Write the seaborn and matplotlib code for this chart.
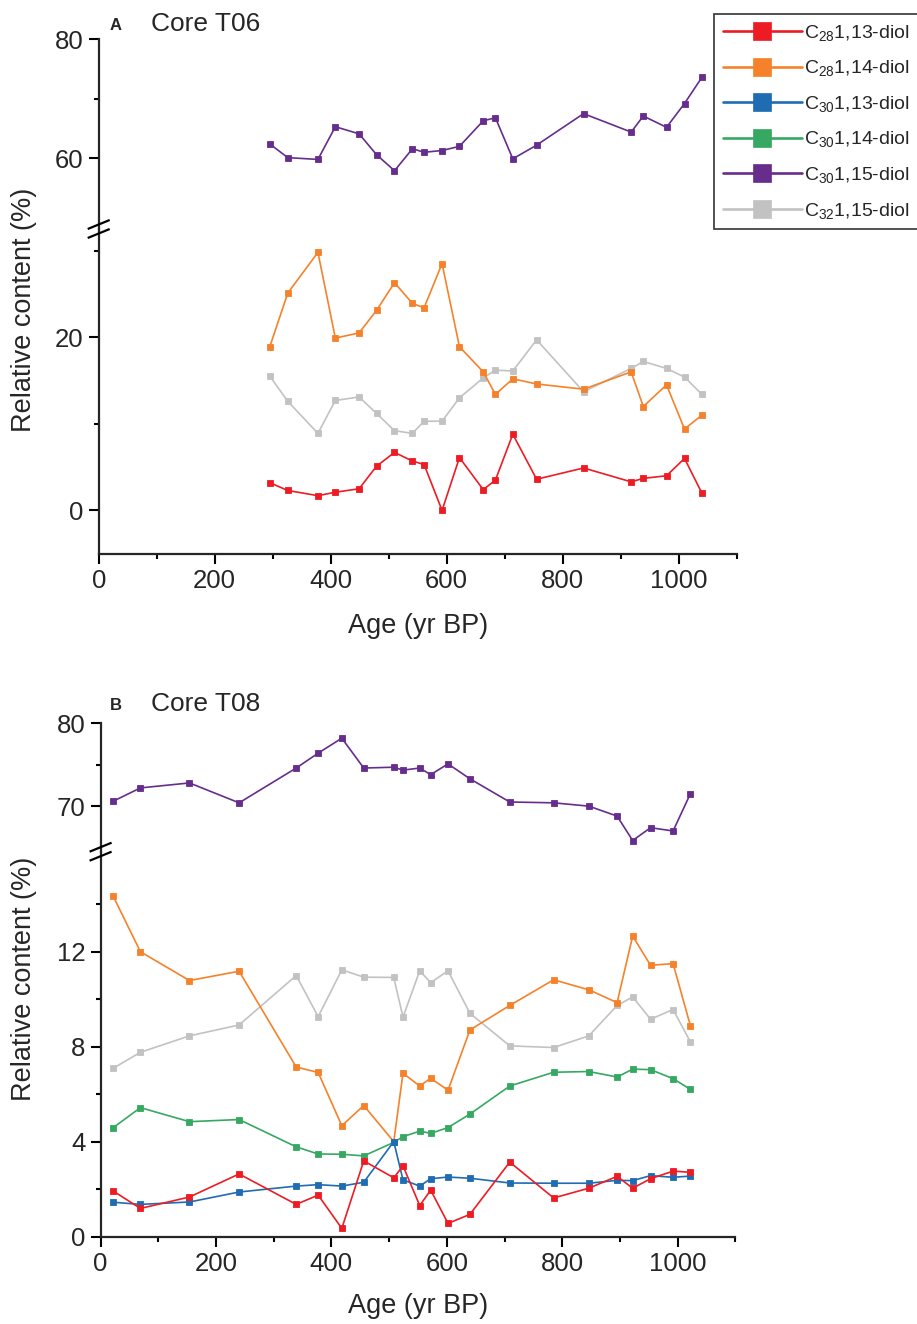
import numpy as np
import pandas as pd
import matplotlib
matplotlib.use("Agg")
import matplotlib.pyplot as plt
from matplotlib.lines import Line2D
from matplotlib.ticker import FixedLocator
import seaborn as sns

# ---------------- data ----------------
series_names = ["C$_{28}$1,13-diol", "C$_{28}$1,14-diol", "C$_{30}$1,13-diol",
                "C$_{30}$1,14-diol", "C$_{30}$1,15-diol", "C$_{32}$1,15-diol"]
series_colors = ["#ED1C24", "#F5822A", "#1F6CB3", "#36A862", "#662D8C", "#C2C2C2"]

ages_A = [295, 326, 378, 408, 449, 479, 510, 541, 561, 592, 622, 663, 684, 714,
          755, 836, 918, 939, 979, 1010, 1040]
A_c28_113 = [3.2, 2.3, 1.7, 2.1, 2.5, 5.1, 6.7, 5.7, 5.3, 0.0, 6.1, 2.4, 3.5, 8.8,
             3.6, 4.9, 3.3, 3.7, 4.0, 6.0, 2.0]
A_c28_114 = [18.9, 25.1, 29.8, 19.9, 20.5, 23.1, 26.3, 23.9, 23.4, 28.5, 18.9, 16.0,
             13.4, 15.2, 14.6, 14.0, 16.0, 12.0, 14.5, 9.4, 11.0]
A_c30_115 = [62.4, 60.1, 59.8, 65.3, 64.1, 60.6, 57.9, 61.6, 61.0, 61.3, 62.0, 66.3,
             66.8, 59.9, 62.2, 67.5, 64.4, 67.1, 65.2, 69.2, 73.6]
A_c32_115 = [15.5, 12.6, 8.9, 12.7, 13.1, 11.2, 9.2, 8.9, 10.3, 10.3, 13.0, 15.3,
             16.2, 16.1, 19.7, 13.7, 16.4, 17.2, 16.4, 15.4, 13.4]

ages_B = [22, 69, 154, 240, 339, 377, 418, 456, 508, 524, 553, 572, 602, 640, 709,
          785, 846, 895, 922, 953, 992, 1022]
B_c28_113 = [1.92, 1.19, 1.67, 2.64, 1.36, 1.75, 0.35, 3.19, 2.48, 2.98, 1.31, 1.96,
             0.56, 0.94, 3.14, 1.63, 2.04, 2.54, 2.04, 2.44, 2.76, 2.71]
B_c28_114 = [14.32, 11.99, 10.78, 11.17, 7.14, 6.91, 4.67, 5.52, 4.0, 6.88, 6.34, 6.67,
             6.16, 8.70, 9.73, 10.81, 10.39, 9.85, 12.65, 11.42, 11.49, 8.88]
B_c30_113 = [1.45, 1.36, 1.46, 1.88, 2.13, 2.19, 2.13, 2.29, 4.0, 2.39, 2.13, 2.44,
             2.51, 2.46, 2.26, 2.25, 2.25, 2.37, 2.36, 2.57, 2.50, 2.55]
B_c30_114 = [4.59, 5.43, 4.84, 4.93, 3.78, 3.48, 3.47, 3.40, 3.97, 4.21, 4.44, 4.35,
             4.59, 5.16, 6.34, 6.92, 6.95, 6.72, 7.05, 7.03, 6.65, 6.20]
B_c30_115 = [70.6, 72.2, 72.8, 70.4, 74.6, 76.4, 78.2, 74.6, 74.7, 74.35, 74.6, 73.8,
             75.1, 73.3, 70.5, 70.4, 70.0, 68.8, 65.85, 67.4, 67.0, 71.5]
B_c32_115 = [7.09, 7.76, 8.45, 8.91, 10.99, 9.26, 11.23, 10.92, 10.91, 9.24, 11.19,
             10.69, 11.19, 9.40, 8.03, 7.96, 8.45, 9.73, 10.09, 9.15, 9.56, 8.20]

x_major = [0, 200, 400, 600, 800, 1000]
x_minor = [100, 300, 500, 700, 900, 1100]

# ---------------- style ----------------
sns.set_style("ticks")
plt.rcParams["font.family"] = ["Liberation Sans", "DejaVu Sans"]
plt.rcParams["mathtext.fontset"] = "custom"
plt.rcParams["mathtext.rm"] = "Liberation Sans"
plt.rcParams["mathtext.it"] = "Liberation Sans:italic"
plt.rcParams["mathtext.bf"] = "Liberation Sans:bold"

W, H = 917, 1324
fig = plt.figure(figsize=(W / 100, H / 100), dpi=100)


def rect(left_px, right_px, top_px, bottom_px):
    return [left_px / W, 1 - bottom_px / H, (right_px - left_px) / W, (bottom_px - top_px) / H]


SPINE_LW = 1.6
TICK_FS = 18.5
LABEL_FS = 19.5


def style_axis(ax, upper):
    for s in ["top", "right"]:
        ax.spines[s].set_visible(False)
    ax.spines["left"].set_linewidth(SPINE_LW)
    ax.spines["bottom"].set_linewidth(SPINE_LW)
    ax.tick_params(axis="both", which="major", direction="out", length=7, width=1.5,
                   labelsize=TICK_FS, pad=4, color="black")
    ax.tick_params(axis="both", which="minor", direction="out", length=3.5, width=1.5,
                   color="black")
    ax.set_xlim(0, 1100)
    ax.xaxis.set_major_locator(FixedLocator(x_major))
    ax.xaxis.set_minor_locator(FixedLocator(x_minor))
    if upper:
        ax.spines["bottom"].set_visible(False)
        ax.tick_params(axis="x", which="both", bottom=False, labelbottom=False)
    ax.set_xlabel("")
    ax.set_ylabel("")
    ax.patch.set_alpha(0)


def draw(ax, ages, vals, color):
    sns.lineplot(x=ages, y=vals, ax=ax, color=color, marker="s", markersize=4.8,
                 markeredgecolor=color, markeredgewidth=0.6, linewidth=1.2,
                 estimator=None, sort=False, legend=False, clip_on=False)


def break_marks(x_px, y_px):
    for dy in (-4.5, 4.5):
        yc = y_px + dy
        fig.add_artist(Line2D([(x_px - 11) / W, (x_px + 11) / W],
                              [1 - (yc + 4.5) / H, 1 - (yc - 4.5) / H],
                              transform=fig.transFigure, color="black", lw=1.6,
                              solid_capstyle="butt"))


# ---------------- panel A ----------------
A_left, A_right = 98.7, 736.7
axA_up = fig.add_axes(rect(A_left, A_right, 39.3, 229))
axA_lo = fig.add_axes(rect(A_left, A_right, 229, 553.7))

draw(axA_up, ages_A, A_c30_115, series_colors[4])
draw(axA_lo, ages_A, A_c32_115, series_colors[5])
draw(axA_lo, ages_A, A_c28_114, series_colors[1])
draw(axA_lo, ages_A, A_c28_113, series_colors[0])

axA_up.set_ylim(48.1, 80)
axA_up.yaxis.set_major_locator(FixedLocator([60, 80]))
axA_up.yaxis.set_minor_locator(FixedLocator([70]))
axA_lo.set_ylim(-5, 32.5)
axA_lo.yaxis.set_major_locator(FixedLocator([0, 20]))
axA_lo.yaxis.set_minor_locator(FixedLocator([10, 30]))
style_axis(axA_up, True)
style_axis(axA_lo, False)
break_marks(A_left, 229)

# ---------------- panel B ----------------
B_left, B_right = 100.6, 735.4
axB_up = fig.add_axes(rect(B_left, B_right, 723.3, 851.7))
axB_lo = fig.add_axes(rect(B_left, B_right, 851.7, 1236.7))

draw(axB_up, ages_B, B_c30_115, series_colors[4])
draw(axB_lo, ages_B, B_c32_115, series_colors[5])
draw(axB_lo, ages_B, B_c28_114, series_colors[1])
draw(axB_lo, ages_B, B_c30_114, series_colors[3])
draw(axB_lo, ages_B, B_c30_113, series_colors[2])
draw(axB_lo, ages_B, B_c28_113, series_colors[0])

axB_up.set_ylim(64.5, 80)
axB_up.yaxis.set_major_locator(FixedLocator([70, 80]))
axB_up.yaxis.set_minor_locator(FixedLocator([75]))
axB_lo.set_ylim(0, 16.2)
axB_lo.yaxis.set_major_locator(FixedLocator([0, 4, 8, 12]))
axB_lo.yaxis.set_minor_locator(FixedLocator([2, 6, 10, 14]))
style_axis(axB_up, True)
style_axis(axB_lo, False)
break_marks(B_left, 851.7)

# ---------------- labels ----------------
for ycen in (310, 979):
    fig.text(24 / W, 1 - ycen / H, "Relative content (%)", rotation=90,
             ha="center", va="center", fontsize=LABEL_FS)
for (xc, yage) in ((417.7, 626), (418, 1306)):
    fig.text(xc / W, 1 - yage / H, "Age (yr BP)", ha="center", va="center",
             fontsize=LABEL_FS)

fig.text(110 / W, 1 - 26 / H, "A", ha="left", va="center", fontsize=12,
         fontweight="bold")
fig.text(151 / W, 1 - 24 / H, "Core T06", ha="left", va="center", fontsize=19)
fig.text(110 / W, 1 - 706 / H, "B", ha="left", va="center", fontsize=12,
         fontweight="bold")
fig.text(151 / W, 1 - 704 / H, "Core T08", ha="left", va="center", fontsize=19)

# ---------------- legend ----------------
handles = [Line2D([0], [0], color=c, lw=1.9, marker="s", markersize=13.5,
                  markeredgecolor=c, markeredgewidth=0.5)
           for c in series_colors]
leg = fig.legend(handles, series_names, loc="upper left",
                 bbox_to_anchor=(714 / W, 1 - 14 / H), borderaxespad=0,
                 fontsize=14, handlelength=4.05, handletextpad=0.12,
                 borderpad=0.45, labelspacing=0.8, frameon=True, fancybox=False)
leg.get_frame().set_edgecolor("black")
leg.get_frame().set_linewidth(1.2)

fig.savefig("out.png", dpi=100)
